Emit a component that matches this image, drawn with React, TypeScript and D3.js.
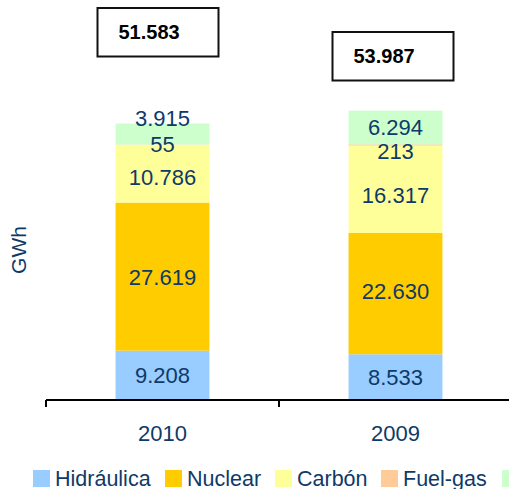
import React, { useRef, useEffect } from "react";
import * as d3 from "d3";

const years = ["2010", "2009"];
const seriesNames = ["Hidráulica", "Nuclear", "Carbón", "Fuel-gas", "Régimen especial"];
const seriesColors = ["#99ccff", "#ffcc00", "#ffff99", "#ffcc99", "#ccffcc"];
const hidraulica = [9208, 8533];
const nuclear = [27619, 22630];
const carbon = [10786, 16317];
const fuelgas = [55, 213];
const especial = [3915, 6294];
const totals = ["51.583", "53.987"];

const fmt = (v: number) => d3.format(",")(v).replace(/,/g, ".");

const App = () => {
  const ref = useRef<SVGSVGElement>(null);

  useEffect(() => {
    const svg = d3.select(ref.current);
    svg.selectAll("*").remove();

    const width = 509;
    const height = 489;
    const textColor = "#0f3a68";
    const font = "'Liberation Sans', Arial, sans-serif";

    const values = [hidraulica, nuclear, carbon, fuelgas, especial];
    const rows = years.map((y, i) => {
      const r: any = { year: y };
      seriesNames.forEach((s, k) => (r[s] = values[k][i]));
      return r;
    });
    const stacked = d3.stack().keys(seriesNames)(rows);

    const x = d3.scaleBand().domain(years).range([46, 512]).padding(0);
    const barW = x.bandwidth() * 0.403;
    const y = d3.scaleLinear().domain([0, 60000]).range([400, 78.4]);

    // bars
    stacked.forEach((layer, k) => {
      svg
        .append("g")
        .selectAll("rect")
        .data(layer)
        .join("rect")
        .attr("x", (d: any) => x(d.data.year)! + (x.bandwidth() - barW) / 2)
        .attr("width", barW)
        .attr("y", (d) => y(d[1]))
        .attr("height", (d) => Math.max(0, y(d[0]) - y(d[1])))
        .attr("fill", seriesColors[k]);
    });

    // label nudges to avoid overlaps, as in the original
    const nudge: Record<string, number> = {
      "2010|Régimen especial": -16,
      "2010|Carbón": 3,
      "2010|Fuel-gas": -1,
      "2009|Carbón": 6,
      "2009|Fuel-gas": 6,
      "2009|Nuclear": -3,
    };

    stacked.forEach((layer) => {
      svg
        .append("g")
        .selectAll("text")
        .data(layer)
        .join("text")
        .attr("x", (d: any) => x(d.data.year)! + x.bandwidth() / 2)
        .attr("y", (d: any) => (y(d[0]) + y(d[1])) / 2 + (nudge[d.data.year + "|" + layer.key] || 0))
        .attr("dy", "0.36em")
        .attr("text-anchor", "middle")
        .attr("font-family", font)
        .attr("font-size", 22)
        .attr("fill", textColor)
        .text((d: any) => fmt(d.data[layer.key]));
    });

    // axis
    const axisY = y(0);
    svg
      .append("line")
      .attr("x1", 46)
      .attr("x2", width)
      .attr("y1", axisY)
      .attr("y2", axisY)
      .attr("stroke", "#000")
      .attr("stroke-width", 2);
    const tickXs = [...years.map((yr) => x(yr)!), x.range()[1]];
    svg
      .append("g")
      .selectAll("line")
      .data(tickXs)
      .join("line")
      .attr("x1", (d) => d)
      .attr("x2", (d) => d)
      .attr("y1", axisY)
      .attr("y2", axisY + 7)
      .attr("stroke", "#000")
      .attr("stroke-width", 2);

    svg
      .append("g")
      .selectAll("text")
      .data(years)
      .join("text")
      .attr("x", (d) => x(d)! + x.bandwidth() / 2)
      .attr("y", 441)
      .attr("text-anchor", "middle")
      .attr("font-family", font)
      .attr("font-size", 22)
      .attr("fill", textColor)
      .text((d) => d);

    // y title
    svg
      .append("text")
      .attr("transform", "translate(26,250) rotate(-90)")
      .attr("text-anchor", "middle")
      .attr("font-family", font)
      .attr("font-size", 21)
      .attr("fill", textColor)
      .text("GWh");

    // total boxes
    const boxTops = [8, 32];
    years.forEach((yr, i) => {
      const cx = x(yr)! + x.bandwidth() / 2;
      const bx = cx - 65 + (i === 0 ? 0 : 2);
      const g = svg.append("g").attr("transform", `translate(${bx},${boxTops[i]})`);
      g.append("rect")
        .attr("width", 121)
        .attr("height", 48.5)
        .attr("fill", "#fff")
        .attr("stroke", "#111")
        .attr("stroke-width", 2);
      g.append("text")
        .attr("x", 21)
        .attr("y", 24)
        .attr("dy", "0.36em")
        .attr("font-family", font)
        .attr("font-size", 20)
        .attr("font-weight", "bold")
        .attr("fill", "#000")
        .text(totals[i]);
    });

    // legend (last entry runs past the right edge, as in the original)
    const legendX = [33, 165, 275, 381, 502];
    const lg = svg
      .append("g")
      .selectAll("g")
      .data(seriesNames)
      .join("g")
      .attr("transform", (d, i) => `translate(${legendX[i]},470)`);
    lg.append("rect")
      .attr("width", 17)
      .attr("height", 17)
      .attr("fill", (d, i) => seriesColors[i]);
    lg.append("text")
      .attr("x", 22)
      .attr("y", 8.5)
      .attr("dy", "0.35em")
      .attr("font-family", font)
      .attr("font-size", 21.5)
      .attr("fill", textColor)
      .text((d) => d);

    svg.attr("width", width).attr("height", height);
  }, []);

  return (
    <svg
      ref={ref}
      style={{ position: "absolute", left: 0, top: 0, overflow: "hidden", background: "#fff" }}
    ></svg>
  );
};

export default App;
